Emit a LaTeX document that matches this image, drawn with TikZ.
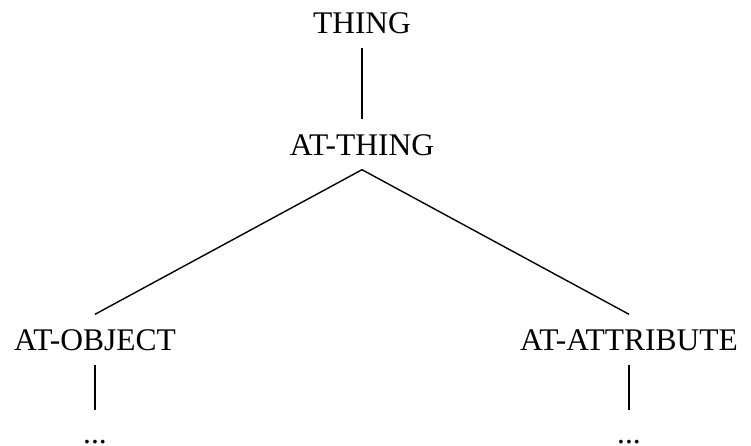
\documentclass[tikz,border=0pt]{standalone}
\usepackage{fontspec}
\setmainfont{Liberation Serif}

\tikzset{
  concept/.style = {inner sep=14pt, text height=21pt, text depth=0pt,
    font=\fontsize{31.5}{36}\selectfont},
  more/.style = {inner sep=0pt, text height=32pt},
}

\begin{document}
\begin{tikzpicture}[every node/.style={concept}, line width=1.4pt,
    level 1/.style={level distance=122pt},
    level 2/.style={level distance=195pt, sibling distance=534pt},
    level 3/.style={level distance=87.5pt},
    parent anchor=south, child anchor=north]
  \useasboundingbox (0,0) rectangle (751pt,-445pt);
  \node (thing) at (362pt,-22.5pt) {THING}
    child {node (atthing) {AT-THING}
      child {node (atobject) {AT-OBJECT} child {node[more] (objmore) {...}}}
      child {node (atattribute) {AT-ATTRIBUTE} child {node[more] (attrmore) {...}}}};
\end{tikzpicture}
\end{document}
